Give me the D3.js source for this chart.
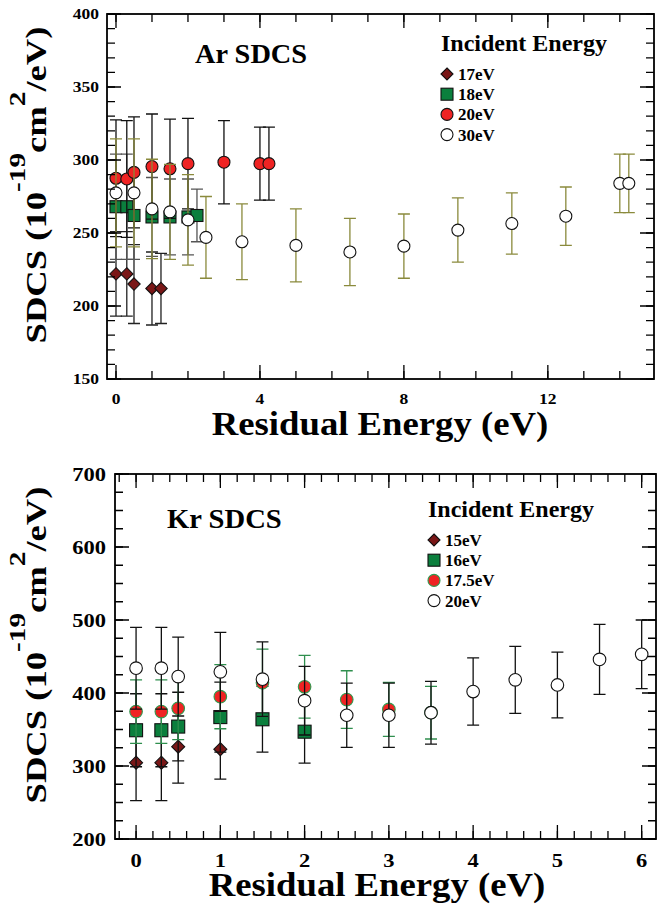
<!DOCTYPE html>
<html><head><meta charset="utf-8">
<script src="https://cdn.jsdelivr.net/npm/d3@7"></script>
<style>
html,body{margin:0;padding:0;background:#fff;}
</style></head><body>
<svg id="chart" width="658" height="904"></svg>
<script>
// ---- Ar panel data (residual energy eV, SDCS, error) ----
const arTickX = [0, 4, 8, 12];
const arTickY = [150, 200, 250, 300, 350, 400];
const ar17x = [0, 0.3, 0.5, 1, 1.25];
const ar17y = [222, 222, 215, 212, 212];
const ar17e = [29, 29, 27, 25, 24];
const ar18x = [0, 0.3, 0.5, 1, 1.5, 2, 2.25];
const ar18y = [268, 268, 262, 261, 261, 261, 262];
const ar18e = [36, 36, 30, 27, 26, 26, 18];
const ar20x = [0, 0.3, 0.5, 1, 1.5, 2, 3, 4, 4.25];
const ar20y = [287.5, 287, 291.5, 295.5, 294, 297.5, 298.5, 297.5, 297.5];
const ar20e = [40, 40, 38, 36, 34, 31, 28.5, 25, 25];
const ar30x = [0, 0.5, 1, 1.5, 2, 2.5, 3.5, 5, 6.5, 8, 9.5, 11, 12.5, 14, 14.25];
const ar30y = [277.5, 277.5, 266.5, 264.5, 259, 247, 244, 241.5, 237, 241, 252, 256.5, 261.5, 284, 284];
const ar30e = [37, 37, 34, 32.5, 31, 28, 26, 25, 23, 22, 22, 21, 20, 20, 20];
const arLegend = ['17eV', '18eV', '20eV', '30eV'];

// ---- Kr panel data ----
const krTickX = [0, 1, 2, 3, 4, 5, 6];
const krTickY = [200, 300, 400, 500, 600, 700];
const kr15x = [0, 0.3, 0.5, 1];
const kr15y = [304.5, 304.5, 326.5, 323];
const kr15e = [52, 52, 50, 41];
const kr16x = [0, 0.3, 0.5, 1, 1.5, 2];
const kr16y = [349, 349, 354, 367, 364, 347];
const kr16e = [50, 50, 47, 48, 45, 43];
const kr175x = [0, 0.3, 0.5, 1, 1.5, 2, 2.5, 3, 3.5];
const kr175y = [374.5, 374.5, 379, 395, 414, 408.5, 391, 377.5, 373];
const kr175e = [43.5, 43.5, 43, 44, 46, 43, 39.5, 37, 36];
const kr20x = [0, 0.3, 0.5, 1, 1.5, 2, 2.5, 3, 3.5, 4, 4.5, 5, 5.5, 6];
const kr20y = [434, 434, 422.5, 429, 419, 389.5, 369.5, 369.5, 373, 402, 418, 411, 446, 453];
const kr20e = [56, 56, 54, 54, 51, 47, 44, 44, 43, 46, 46, 45, 48, 47];
const krLegend = ['15eV', '16eV', '17.5eV', '20eV'];

const MAROON = '#7a1717', GREEN = '#0b7f3d', RED = '#ef2323', OLIVE = '#8a8a3c';
const FONT = "'Liberation Serif', 'Times New Roman', serif";

const svg = d3.select('#chart');

function label(g, x, y, str, size, anchor, sx, rot) {
  return g.append('text')
    .attr('transform', `translate(${x},${y}) rotate(${rot || 0}) scale(${sx || 1},1)`)
    .attr('text-anchor', anchor || 'start')
    .attr('font-family', FONT).attr('font-weight', 'bold')
    .attr('font-size', size)
    .text(str);
}

function marker(g, shape, cx, cy, s, fill, stroke) {
  let m;
  if (shape === 'circle') {
    m = g.append('circle').attr('cx', cx).attr('cy', cy).attr('r', s);
  } else if (shape === 'square') {
    m = g.append('rect').attr('x', cx - s).attr('y', cy - s).attr('width', 2 * s).attr('height', 2 * s);
  } else {
    m = g.append('path').attr('d', `M${cx},${cy - s}L${cx + s},${cy}L${cx},${cy + s}L${cx - s},${cy}Z`);
  }
  m.attr('fill', fill).attr('stroke', stroke).attr('stroke-width', 1.1);
}

function series(g, x, y, s, sizes) {
  const sg = g.append('g');
  s.x.forEach((v, i) => {
    const px = x(v), lo = y(s.y[i] - s.e[i]), hi = y(s.y[i] + s.e[i]);
    sg.append('path')
      .attr('d', `M${px},${lo}V${hi}M${px - 6},${lo}H${px + 6}M${px - 6},${hi}H${px + 6}`)
      .attr('stroke', s.err).attr('stroke-width', 1.3).attr('fill', 'none');
  });
  s.x.forEach((v, i) => marker(sg, s.shape, x(v), y(s.y[i]), sizes[s.shape], s.fill, s.stroke));
}

// frame with inward ticks on all four sides
function frame(g, x, y, xMajor, xMinor, yMajor, yMinor) {
  const [x0, x1] = x.range(), [y1, y0] = y.range();
  const ax = g.append('g').attr('stroke', '#000').attr('fill', 'none');
  const tick = (v, len, isX) => {
    if (isX) {
      const p = x(v);
      ax.append('path').attr('d', `M${p},${y1}v${-len}M${p},${y0}v${len}`).attr('stroke-width', 1.3);
    } else {
      const p = y(v);
      ax.append('path').attr('d', `M${x0},${p}h${len}M${x1},${p}h${-len}`).attr('stroke-width', 1.3);
    }
  };
  xMinor.forEach(v => tick(v, 8, true));
  xMajor.forEach(v => tick(v, 14, true));
  yMinor.forEach(v => tick(v, 8, false));
  yMajor.forEach(v => tick(v, 14, false));
  ax.append('rect').attr('x', x0).attr('y', y0).attr('width', x1 - x0).attr('height', y1 - y0)
    .attr('stroke-width', 1.8);
}

function yTitle(g, cx, cy) {
  const t = g.append('text')
    .attr('transform', `translate(${cx},${cy}) rotate(-90) scale(1.22,1)`)
    .attr('font-family', FONT).attr('font-weight', 'bold')
    .attr('text-anchor', 'middle').attr('font-size', 30);
  t.append('tspan').text('SDCS (10');
  t.append('tspan').attr('font-size', 24).attr('dy', -21).text('-19');
  t.append('tspan').attr('dy', 21).text('cm');
  t.append('tspan').attr('font-size', 24).attr('dy', -21).text('2');
  t.append('tspan').attr('dy', 21).text('/eV)');
}

function legend(g, lx, ty, names, styles, r) {
  label(g, lx - 6, ty, 'Incident Energy', 24, 'start');
  names.forEach((n, i) => {
    const cy = ty + 23 + i * 20.2;
    const st = styles[i];
    marker(g, st.shape, lx, cy, r, st.fill, st.stroke);
    label(g, lx + 11, cy + 6, n, 17, 'start');
  });
}

// ---------- Ar panel ----------
const arX = d3.scaleLinear().domain([-0.25, 14.95]).range([107, 654]);
const arY = d3.scaleLinear().domain([150, 400]).range([379, 14]);
const arG = svg.append('g');
const arSeries = [
  { x: ar17x, y: ar17y, e: ar17e, shape: 'diamond', fill: MAROON, stroke: '#111', err: '#222' },
  { x: ar18x, y: ar18y, e: ar18e, shape: 'square', fill: GREEN, stroke: '#111', err: '#555' },
  { x: ar20x, y: ar20y, e: ar20e, shape: 'circle', fill: RED, stroke: '#111', err: '#111' },
  { x: ar30x, y: ar30y, e: ar30e, shape: 'circle', fill: '#fff', stroke: '#111', err: OLIVE }
];
arSeries.forEach(s => series(arG, arX, arY, s, { circle: 6, square: 6, diamond: 6.2 }));
frame(arG, arX, arY, arTickX, d3.range(0, 15), arTickY, d3.range(150, 401, 10));
arTickX.forEach(v => label(arG, arX(v), 404, v, 14, 'middle', 1.25));
arTickY.forEach(v => label(arG, 99, arY(v) + 5, v, 14, 'end', 1.25));
label(arG, 380, 435, 'Residual Energy (eV)', 34, 'middle', 1.08);
yTitle(arG, 46, 185);
label(arG, 195, 63, 'Ar SDCS', 27, 'start', 1.05);
legend(arG, 447, 51, arLegend, arSeries, 6);

// ---------- Kr panel ----------
const krX = d3.scaleLinear().domain([-0.25, 6.17]).range([115, 656]);
const krY = d3.scaleLinear().domain([200, 700]).range([839, 474]);
const krG = svg.append('g');
const krSeries = [
  { x: kr15x, y: kr15y, e: kr15e, shape: 'diamond', fill: MAROON, stroke: '#111', err: '#111' },
  { x: kr16x, y: kr16y, e: kr16e, shape: 'square', fill: GREEN, stroke: '#111', err: '#111' },
  { x: kr175x, y: kr175y, e: kr175e, shape: 'circle', fill: RED, stroke: '#2f9a4f', err: '#2f8f4e' },
  { x: kr20x, y: kr20y, e: kr20e, shape: 'circle', fill: '#fff', stroke: '#111', err: '#111' }
];
krSeries.forEach(s => series(krG, krX, krY, s, { circle: 6.3, square: 6.5, diamond: 6.5 }));
frame(krG, krX, krY, krTickX, d3.range(-1, 31).map(i => i * 0.2), krTickY, d3.range(200, 701, 25));
krTickX.forEach(v => label(krG, krX(v), 867, v, 18, 'middle', 1.25));
krTickY.forEach(v => label(krG, 106, krY(v) + 6.5, v, 18, 'end', 1.25));
label(krG, 377, 896, 'Residual Energy (eV)', 34, 'middle', 1.08);
yTitle(krG, 46, 645);
label(krG, 167, 528, 'Kr SDCS', 27, 'start', 1.06);
legend(krG, 434, 517, krLegend, krSeries, 6);
</script>
</body></html>
